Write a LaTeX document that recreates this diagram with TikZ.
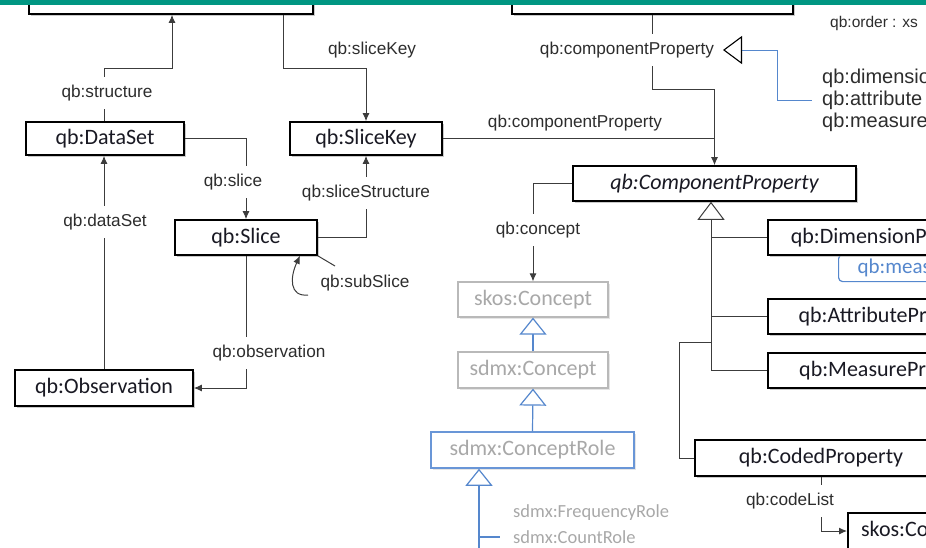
\documentclass[tikz,border=0pt]{standalone}
\usepackage{fontspec}
\setmainfont{Carlito}
\newfontfamily\labfont{Liberation Sans}
\usetikzlibrary{arrows.meta,shadows,calc}

\definecolor{barteal}{RGB}{0,150,130}
\definecolor{edgegray}{RGB}{60,60,60}
\definecolor{labgray}{RGB}{45,45,45}
\definecolor{boxtext}{RGB}{25,25,35}
\definecolor{fadegray}{RGB}{168,168,168}
\definecolor{fadeborder}{RGB}{185,185,185}
\definecolor{roleblue}{RGB}{105,150,215}
\definecolor{linkblue}{RGB}{85,135,205}

\tikzset{
  boxbase/.style={fill=white, inner sep=0pt, font=\fontsize{22}{26}\selectfont},
  classbox/.style={boxbase, draw=black, line width=1.6pt, text=boxtext,
    drop shadow={shadow xshift=2pt, shadow yshift=-2pt, fill=black!35, opacity=0.6}},
  fadebox/.style={boxbase, draw=fadeborder, line width=1.2pt, text=fadegray,
    drop shadow={shadow xshift=2pt, shadow yshift=-2pt, fill=black!20, opacity=0.5}},
  rolebox/.style={boxbase, draw=roleblue, line width=1.5pt, text=fadegray,
    drop shadow={shadow xshift=2pt, shadow yshift=-2pt, fill=black!20, opacity=0.5}},
  edge/.style={draw=edgegray, line width=1pt},
  arr/.style={-{Latex[length=8pt,width=7pt]}},
  genblack/.style={-{Triangle[open,length=18pt,width=27pt,fill=white]}},
  genblue/.style={draw=linkblue, line width=1.2pt, -{Triangle[open,length=17pt,width=27pt,fill=white]}},
  elabel/.style={font=\labfont\fontsize{17.2}{20}\selectfont, text=labgray, inner xsep=1pt, inner ysep=2pt},
  gaplabel/.style={elabel, fill=white, inner ysep=8pt},
  sidelabel/.style={elabel, anchor=west, font=\labfont\fontsize{20}{23}\selectfont},
  rolelabel/.style={font=\fontsize{18.5}{21}\selectfont, text=fadegray, anchor=west, inner sep=0pt},
}

\begin{document}
\begin{tikzpicture}[x=1pt,y=-1pt]
\useasboundingbox (0,0) rectangle (926,547);
\clip (0,0) rectangle (926,547);

% ---- classes ----
\node[classbox, minimum width=284pt, minimum height=54pt] (topL) at (171,-13) {};
\node[classbox, minimum width=281pt, minimum height=54pt] (topM) at (652.5,-13) {};

\node[classbox, minimum width=158pt, minimum height=33pt] (ds) at (105,138.5) {qb:DataSet};
\node[classbox, minimum width=152pt, minimum height=33pt] (sk) at (366,138.5) {qb:SliceKey};
\node[classbox, minimum width=142pt, minimum height=35pt] (sl) at (246,237.5) {qb:Slice};
\node[classbox, minimum width=178pt, minimum height=36pt] (obs) at (104,388) {qb:Observation};

\node[classbox, minimum width=283pt, minimum height=35pt] (cp) at (714.5,183.5) {\itshape qb:ComponentProperty};

\node[fadebox, minimum width=150pt, minimum height=35pt] (skosC) at (533,299.5) {skos:Concept};
\node[fadebox, minimum width=150pt, minimum height=36pt] (sdmxC) at (533,370) {sdmx:Concept};
\node[rolebox, minimum width=203pt, minimum height=36pt] (role) at (532.5,450) {sdmx:ConceptRole};

\node[draw=linkblue, line width=1.2pt, rounded corners=4pt, fill=white, anchor=north west,
      text width=180pt, align=left, inner xsep=19pt, minimum height=27pt, inner ysep=0pt,
      text=linkblue, font=\fontsize{21}{24}\selectfont] (mdim) at (838,254) {qb:measureDimension};
\node[classbox, minimum width=248pt, minimum height=35pt] (dim) at (892,237.5) {qb:DimensionProperty};
\node[classbox, minimum width=248pt, minimum height=35pt] (attr) at (892,316.5) {qb:AttributeProperty};
\node[classbox, minimum width=248pt, minimum height=35pt] (meas) at (892,370.5) {qb:MeasureProperty};
\node[classbox, minimum width=252pt, minimum height=36pt] (coded) at (821,458) {qb:CodedProperty};
\node[classbox, anchor=west, minimum width=215pt, minimum height=36pt] (skosCS) at (847,531) {skos:ConceptScheme};

% ---- helper points ----
\coordinate (bS) at (172,68);
\coordinate (bK) at (283,68);
\coordinate (bC) at (714.5,89);
\coordinate (gv) at (711,0);
\coordinate (cb) at (679,342);
\coordinate (rb) at (479,560);
\coordinate (ss) at (308,295);

% ---- connectors ----
\draw[edge,arr] (ds.north -| 104,0) |- (bS) -- (bS |- topL.south);
\draw[edge,arr] (bK |- topL.south) -- (bK) -| (sk.north);
\draw[edge,arr] (ds.east) -| (sl.north);
\draw[edge,arr] (sl.east) -| (sk.south);
\draw[edge,arr] (ss) .. controls (289,297) and (290,277) .. (sl.south -| 300,0);
\draw[edge] (sl.south east) -- (335,266);
\draw[edge,arr] (obs.north) -- (obs.north |- ds.south);
\draw[edge,arr] (sl.south) |- (obs.east);

\draw[edge,arr] (topM.south) |- (bC) -- (cp.north);
\draw[edge] (sk.east) -- (sk.east -| cp.north);
\draw[edge,arr] (cp.west) -| (skosC.north);

\draw[edge,genblack] (meas.west) -| (gv |- cp.south);
\draw[edge] (dim.west) -- (dim.west -| gv);
\draw[edge] (attr.west) -- (attr.west -| gv);
\draw[edge] (coded.west) -| (cb) -- (cb -| gv);
\draw[edge,arr] (coded.south) |- (skosCS.west);

\draw[genblue] (sdmxC.north) -- (skosC.south);
\draw[genblue] (role.north) -- (sdmxC.south);
\draw[genblue] (rb) -- (rb |- role.south);
\draw[draw=linkblue, line width=1.2pt] (rb |- 0,537) -- (500,537);

% ---- labels ----
\node[gaplabel] (lStruct) at (107,93) {qb:structure};
\node[elabel] (lKey) at (372,50) {qb:sliceKey};
\node[gaplabel] (lSlice) at (233,182) {qb:slice};
\node[gaplabel] (lStructS) at (366,193) {qb:sliceStructure};
\node[gaplabel] (lDataSet) at (105,222) {qb:dataSet};
\node[elabel] (lSub) at (365,283) {qb:subSlice};
\node[gaplabel] (lObs) at (269,353) {qb:observation};
\node[gaplabel] (lCP1) at (627,50) {qb:componentProperty};
\node[elabel] (lCP2) at (575,123) {qb:componentProperty};
\node[gaplabel] (lConcept) at (538,230) {qb:concept};
\node[gaplabel] (lCode) at (790,501) {qb:codeList};

\node[rolelabel] (rFreq) at (513,513) {sdmx:FrequencyRole};
\node[rolelabel] (rCount) at (513,537) {sdmx:CountRole};

\node[elabel, anchor=west, font=\labfont\fontsize{15.5}{18}\selectfont] (lOrder) at (829,23) {qb:order : xs};
\node[sidelabel] (lDim) at (821,78) {qb:dimension};
\node[sidelabel] (lAttr) at (821,100) {qb:attribute};
\node[sidelabel] (lMeas) at (821,122.5) {qb:measure};

% open triangle pointing at the component property label, tied to the three sub-properties
\coordinate (tri) at (723,50);
\draw[draw=linkblue, line width=1pt, {Triangle[open,length=19pt,width=28pt,color=black,fill=white,line width=1.1pt]}-]
  (tri) -- (777,50) |- ($(lAttr.west)+(-9,0)$);

% ---- top band ----
\fill[barteal] (0,0) rectangle (926,5);
\end{tikzpicture}
\end{document}
